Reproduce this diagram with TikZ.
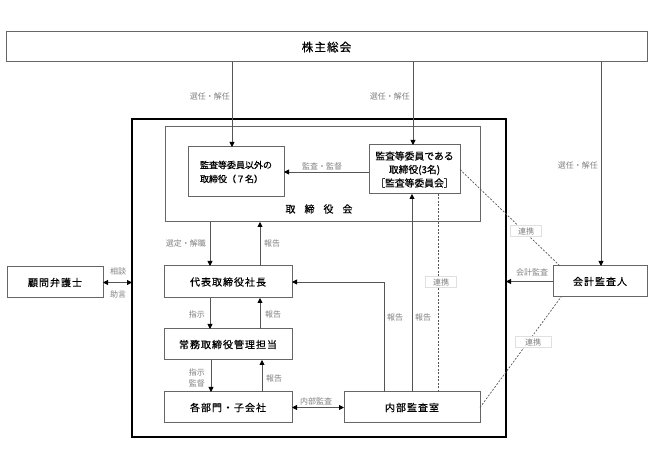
\documentclass[tikz,border=0pt]{standalone}
\usepackage{fontspec}
\setmainfont{Noto Sans CJK JP}
\newfontfamily\spacedjp{Noto Sans CJK JP}[LetterSpace=10,FakeBold=0.5]
\newfontfamily\heavyjp{Noto Sans CJK JP}[FakeBold=0.5]
\usetikzlibrary{arrows.meta,calc}
\definecolor{boxline}{HTML}{666666}
\definecolor{connc}{HTML}{555555}
\definecolor{lblc}{HTML}{808080}
\tikzset{
  box/.style={draw=boxline, line width=1pt, inner sep=0pt, outer sep=0pt,
    font=\spacedjp\fontsize{10}{13}\selectfont, align=center},
  conn/.style={draw=connc, line width=0.9pt},
  tipend/.style={-{Triangle[length=5pt,width=5pt,color=black]}},
  tipboth/.style={{Triangle[length=5pt,width=5pt,color=black]}-{Triangle[length=5pt,width=5pt,color=black]}},
  dotline/.style={draw=connc, line width=0.7pt, dash pattern=on 2pt off 1.5pt},
  lab/.style={text=lblc, font=\fontsize{8}{11}\selectfont, inner sep=0pt, align=center},
  linklab/.style={lab, fill=white, draw=black!12, line width=0.4pt, minimum width=31pt, minimum height=11pt}
}
\begin{document}
\begin{tikzpicture}[x=1pt,y=-1pt]
\useasboundingbox (0,0) rectangle (649,454);
% containers
\node[draw=black, line width=1.6pt, inner sep=0pt, outer sep=0pt, minimum width=374pt, minimum height=318pt] (outer) at (319,278) {};
\node[box, minimum width=315pt, minimum height=95pt] (board) at (322.5,174.5) {};
\node[font=\heavyjp\fontsize{10}{12}\selectfont] (boardlab) at (319,209) {取\hspace{9pt}締\hspace{9pt}役\hspace{9pt}会};
% boxes
\node[box, minimum width=641pt, minimum height=30pt, font=\spacedjp\fontsize{11.5}{13}\selectfont] (top) at (326.5,47) {株主総会};
\node[box, minimum width=96pt, minimum height=50pt, align=left, font=\heavyjp\fontsize{9}{14}\selectfont] (dir7) at (236,172) {監査等委員以外の\\取締役（７名）};
\node[box, minimum width=91pt, minimum height=49pt, font=\heavyjp\fontsize{9.8}{13.5}\selectfont] (audit) at (414.5,169.5) {監査等委員である\\取締役(3名)\\［監査等委員会］};
\node[box, minimum width=128pt, minimum height=32pt] (ceo) at (228,282) {代表取締役社長};
\node[box, minimum width=128pt, minimum height=31pt] (jomu) at (228,344.5) {常務取締役管理担当};
\node[box, minimum width=128pt, minimum height=31pt] (bumon) at (228,407.5) {各部門・子会社};
\node[box, minimum width=136pt, minimum height=31pt] (naibu) at (412,407.5) {内部監査室};
\node[box, minimum width=94pt, minimum height=31pt] (kaikei) at (600,281.5) {会計監査人};
\node[box, minimum width=96pt, minimum height=31pt] (komon) at (55,282.5) {顧問弁護士};
% helper x positions
\coordinate (xa) at (232,0);
\coordinate (xb) at (413,0);
\coordinate (xc) at (601,0);
\coordinate (xd) at (210,0);
\coordinate (xe) at (260,0);
\coordinate (xd2) at (211,0);
\coordinate (xe2) at (262,0);
\coordinate (xf) at (384,0);
\coordinate (xg) at (412,0);
\coordinate (xh) at (438,0);
% connectors
\draw[conn,tipend] (top.south -| xa) -- (dir7.north -| xa);
\draw[conn,tipend] (top.south -| xb) -- (audit.north -| xb);
\draw[conn,tipend] (top.south -| xc) -- (kaikei.north -| xc);
\draw[conn,tipend] (audit.west |- dir7.east) -- (dir7.east);
\draw[conn,tipend] (board.south -| xd) -- (ceo.north -| xd);
\draw[conn,tipend] (ceo.north -| xe) -- (board.south -| xe);
\draw[conn,tipend] (ceo.south -| xd) -- (jomu.north -| xd);
\draw[conn,tipend] (jomu.north -| xe) -- (ceo.south -| xe);
\draw[conn,tipend] (jomu.south -| xd2) -- (bumon.north -| xd2);
\draw[conn,tipend] (bumon.north -| xe2) -- (jomu.south -| xe2);
\draw[conn,tipboth] (bumon.east) -- (naibu.west);
\draw[conn,tipend] (naibu.north -| xf) |- (ceo.east);
\draw[conn,tipend] (naibu.north -| xg) -- (audit.south -| xg);
\draw[dotline] (naibu.north -| xh) -- (audit.south -| xh);
\draw[conn,tipend] (kaikei.west) -- (outer.east |- kaikei.west);
\draw[conn,tipboth] (komon.east) -- (outer.west |- komon.east);
\draw[dotline] (audit.east) -- ($(kaikei.north west)+(7,0)$);
\draw[dotline] (naibu.east) -- ($(kaikei.south west)+(8,0)$);
% labels
\node[lab, anchor=east] (l1) at (230,96) {選任・解任};
\node[lab, anchor=east] (l2) at (410,96) {選任・解任};
\node[lab, anchor=east] (l3) at (598,165) {選任・解任};
\node[lab] (l4) at (322,166) {監査・監督};
\node[lab, anchor=east] (l5) at (206,243) {選定・解職};
\node[lab, anchor=west] (l6) at (264,243) {報告};
\node[lab, anchor=east] (l7) at (205,314) {指示};
\node[lab, anchor=west] (l8) at (265,314) {報告};
\node[lab, anchor=east, font=\fontsize{8}{11}\selectfont] (l9) at (205,377.5) {指示\\監督};
\node[lab, anchor=west] (l10) at (266,378) {報告};
\node[lab] (l11) at (316,401) {内部監査};
\node[lab] (l12) at (395,317) {報告};
\node[lab] (l13) at (423,317) {報告};
\node[linklab] (l14) at (441,282) {連携};
\node[linklab] (l15) at (526,231) {連携};
\node[lab] (l16) at (532,272) {会計監査};
\node[linklab, minimum width=36pt] (l17) at (533,342) {連携};
\node[lab] (l18) at (118,271) {相談};
\node[lab] (l19) at (118,294) {助言};
\end{tikzpicture}
\end{document}
